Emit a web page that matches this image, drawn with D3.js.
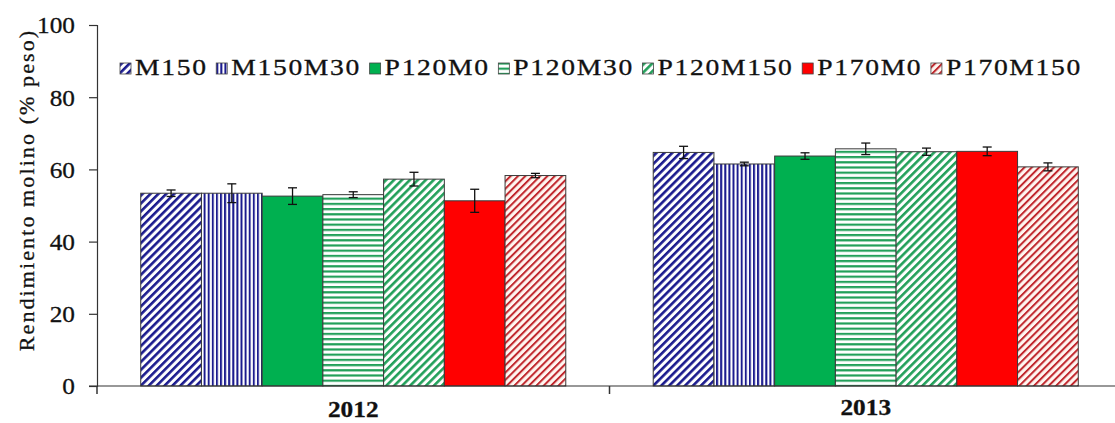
<!DOCTYPE html>
<html>
<head>
<meta charset="utf-8">
<script src="https://cdn.jsdelivr.net/npm/d3@7"></script>
<style>
  html, body { margin: 0; padding: 0; background: #fff; }
  svg { display: block; }
  text { font-family: "Liberation Serif", "Times New Roman", serif; fill: #111; stroke: #111; stroke-width: 0.3px; }
</style>
</head>
<body>
<svg id="chart" width="1115" height="423"></svg>
<script>
// ---- data ----
const years = ["2012", "2013"];
const series = ["M150", "M150M30", "P120M0", "P120M30", "P120M150", "P170M0", "P170M150"];
const values2012 = [53.4, 53.4, 52.6, 53.0, 57.3, 51.3, 58.3];
const values2013 = [64.7, 61.5, 63.7, 65.7, 64.9, 65.0, 60.7];
const err2012 = [0.9, 2.6, 2.3, 0.8, 1.9, 3.2, 0.6];
const err2013 = [1.7, 0.5, 0.9, 1.6, 1.0, 1.2, 1.1];
const yTicks = [0, 20, 40, 60, 80, 100];
const yLabel = "Rendimiento molino (% peso)";

// ---- styles ----
const styles = {
  "M150":     { type: "diag",  color: "#1b1b8e", bg: "#ffffff", period: 5.6, w: 2.6 },
  "M150M30":  { type: "vert",  color: "#1b1b8e", bg: "#ffffff", period: 4.1, w: 2.0 },
  "P120M0":   { type: "solid", color: "#00b050" },
  "P120M30":  { type: "horiz", color: "#22a05a", bg: "#ffffff", period: 5.2, w: 2.2 },
  "P120M150": { type: "diag",  color: "#22a05a", bg: "#ffffff", period: 5.6, w: 2.6 },
  "P170M0":   { type: "solid", color: "#ff0000" },
  "P170M150": { type: "diag",  color: "#c0272d", bg: "#fff6f1", period: 5.2, w: 2.0 }
};

const data = years.map((y, gi) => ({
  year: y,
  items: series.map((s, si) => ({
    series: s,
    value: gi === 0 ? values2012[si] : values2013[si],
    err: gi === 0 ? err2012[si] : err2013[si]
  }))
}));

const W = 1115, H = 423;
const FONT = '"Liberation Serif", "Times New Roman", serif';
const svg = d3.select("#chart");
svg.append("rect").attr("width", W).attr("height", H).attr("fill", "#fff");

// ---- patterns ----
const defs = svg.append("defs");
series.forEach((s, i) => {
  const st = styles[s];
  if (st.type === "solid") return;
  const p = defs.append("pattern")
    .attr("id", "pat" + i)
    .attr("patternUnits", "userSpaceOnUse")
    .attr("width", st.period).attr("height", st.period);
  if (st.type === "diag") p.attr("patternTransform", "rotate(45)");
  p.append("rect").attr("width", st.period).attr("height", st.period).attr("fill", st.bg);
  if (st.type === "horiz") {
    p.append("rect").attr("x", 0).attr("y", 0).attr("width", st.period).attr("height", st.w).attr("fill", st.color);
  } else {
    p.append("rect").attr("x", 0).attr("y", 0).attr("width", st.w).attr("height", st.period).attr("fill", st.color);
  }
});
const fillOf = s => {
  const st = styles[s];
  return st.type === "solid" ? st.color : `url(#pat${series.indexOf(s)})`;
};

// ---- scales ----
const y = d3.scaleLinear().domain([0, 100]).range([386, 25]);
const x0 = d3.scaleBand().domain(years).range([97, 1122]).padding(0);
const x1 = d3.scaleBand().domain(series).range([0, x0.bandwidth()]).paddingInner(0).paddingOuter(0.72);

// ---- y axis ----
const tsx = 1.1;
const yAxis = svg.append("g").attr("transform", "translate(97,0)")
  .call(d3.axisLeft(y).tickValues(yTicks).tickSize(8).tickPadding(14).tickFormat(d3.format("d")));
yAxis.attr("font-family", null).attr("font-size", null);
yAxis.select(".domain").attr("stroke", "#333").attr("stroke-width", 1.2);
yAxis.selectAll(".tick line").attr("stroke", "#333").attr("stroke-width", 1.2);
yAxis.selectAll(".tick text")
  .attr("font-family", FONT).attr("font-size", 23)
  .style("font-family", FONT).style("font-size", "23px")
  .attr("dy", "0.34em")
  .attr("x", -22 / tsx)
  .attr("transform", `scale(${tsx},1)`)
  .attr("fill", "#111");

svg.append("text")
  .attr("transform", "translate(34,190) rotate(-90)")
  .attr("text-anchor", "middle")
  .attr("font-size", 22)
  .style("font-size", "22px")
  .style("letter-spacing", "2.1px")
  .text(yLabel);

// ---- bars ----
const groups = svg.append("g").selectAll("g").data(data).join("g")
  .attr("transform", d => `translate(${x0(d.year)},0)`);

groups.selectAll("rect.bar").data(d => d.items).join("rect")
  .attr("class", "bar")
  .attr("x", d => x1(d.series))
  .attr("y", d => y(d.value))
  .attr("width", x1.bandwidth())
  .attr("height", d => y(0) - y(d.value))
  .attr("fill", d => fillOf(d.series))
  .attr("stroke", "#3a3a3a").attr("stroke-width", 1);

// error bars
const eb = groups.selectAll("g.err").data(d => d.items).join("g").attr("class", "err")
  .attr("stroke", "#111").attr("stroke-width", 1.3);
eb.append("line")
  .attr("x1", d => x1(d.series) + x1.bandwidth() / 2)
  .attr("x2", d => x1(d.series) + x1.bandwidth() / 2)
  .attr("y1", d => y(d.value + d.err)).attr("y2", d => y(d.value - d.err));
eb.append("line")
  .attr("x1", d => x1(d.series) + x1.bandwidth() / 2 - 4.5)
  .attr("x2", d => x1(d.series) + x1.bandwidth() / 2 + 4.5)
  .attr("y1", d => y(d.value + d.err)).attr("y2", d => y(d.value + d.err));
eb.append("line")
  .attr("x1", d => x1(d.series) + x1.bandwidth() / 2 - 4.5)
  .attr("x2", d => x1(d.series) + x1.bandwidth() / 2 + 4.5)
  .attr("y1", d => y(d.value - d.err)).attr("y2", d => y(d.value - d.err));

// ---- x axis ----
svg.append("line").attr("x1", 89).attr("x2", W).attr("y1", y(0)).attr("y2", y(0))
  .attr("stroke", "#333").attr("stroke-width", 1.2);
const boundaries = years.map(yr => x0(yr)).concat([x0(years[years.length - 1]) + x0.bandwidth()]);
svg.append("g").selectAll("line").data(boundaries).join("line")
  .attr("x1", d => d).attr("x2", d => d)
  .attr("y1", y(0)).attr("y2", y(0) + 8)
  .attr("stroke", "#333").attr("stroke-width", 1.5);
const ysx = 1.1;
svg.append("g").selectAll("text").data(years).join("text")
  .attr("transform", (d, i) => `translate(${x0(d) + x0.bandwidth() / 2},${i === 0 ? 417 : 415}) scale(${ysx},1)`)
  .attr("text-anchor", "middle")
  .attr("font-size", 23)
  .style("font-size", "23px").style("font-weight", "bold")
  .text(d => d);

// ---- legend ----
const leg = svg.append("g");
const legStart = 120, legEnd = 1082;
const boxS = 11, gapBoxText = 4, sx = 1.2;
const items = series.map(s => {
  const g = leg.append("g");
  g.append("rect")
    .attr("x", 0).attr("y", 63).attr("width", boxS).attr("height", boxS)
    .attr("fill", fillOf(s)).attr("stroke", "#444").attr("stroke-width", 0.8);
  const t = g.append("text")
    .attr("transform", `translate(${boxS + gapBoxText},75) scale(${sx},1)`)
    .attr("font-size", 23)
    .style("font-size", "23px").style("letter-spacing", "1.4px").text(s);
  const w = boxS + gapBoxText + t.node().getComputedTextLength() * sx;
  return { g, w };
});
const totalW = d3.sum(items, d => d.w);
const gap = (legEnd - legStart - totalW) / (items.length - 1);
let lx = legStart;
items.forEach(it => {
  it.g.attr("transform", `translate(${lx},0)`);
  lx += it.w + gap;
});
</script>
</body>
</html>
